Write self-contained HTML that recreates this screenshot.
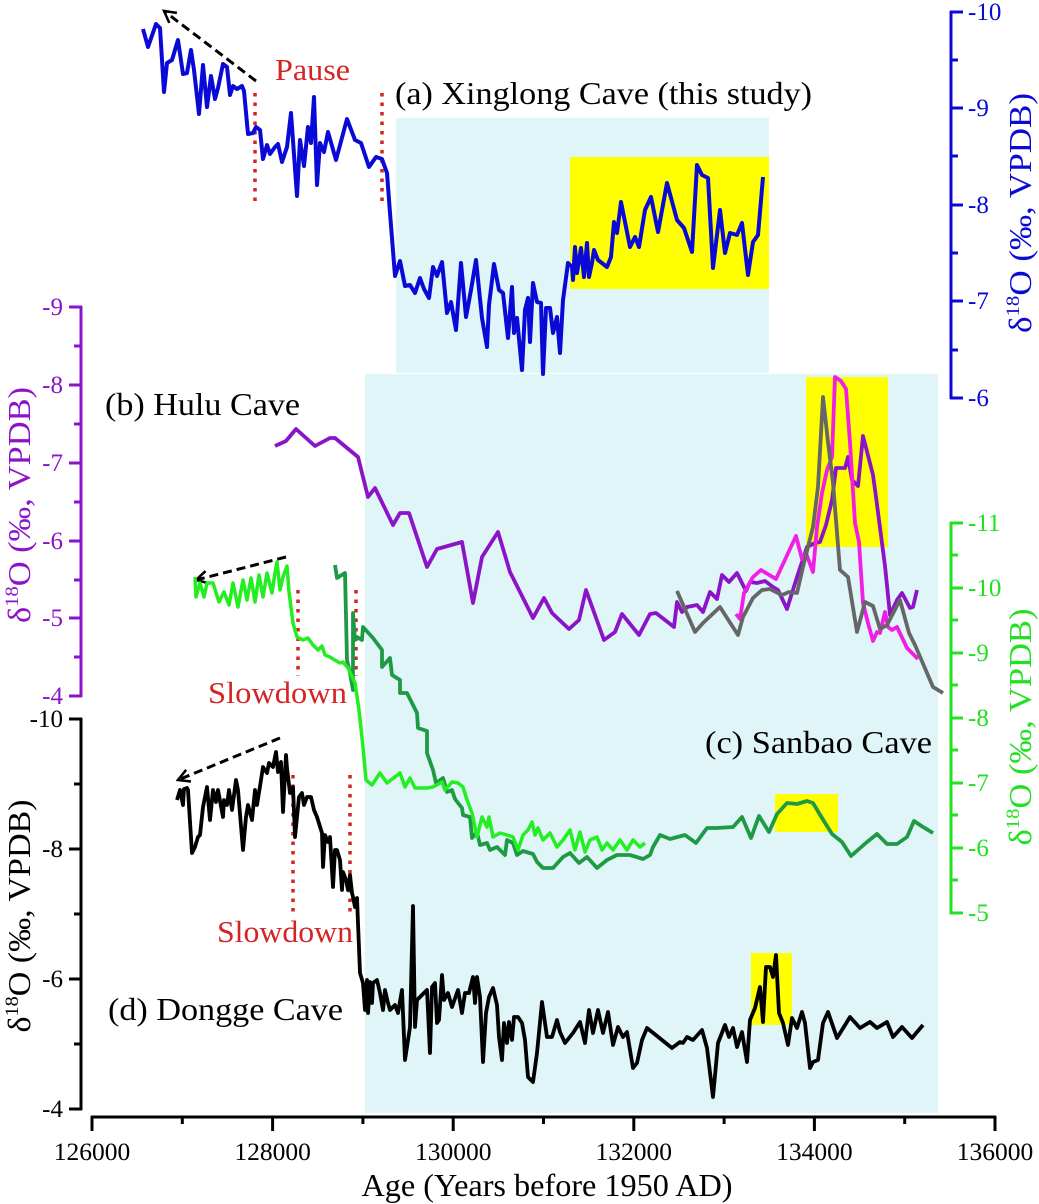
<!DOCTYPE html>
<html>
<head>
<meta charset="utf-8">
<style>
html,body{margin:0;padding:0;background:#fff;}
svg{display:block;}
text{font-family:"Liberation Serif","Times New Roman",serif;}
</style>
</head>
<body>
<svg width="1039" height="1204" viewBox="0 0 1039 1204" xmlns="http://www.w3.org/2000/svg">
<defs>
<marker id="arr" viewBox="0 0 14 14" refX="12" refY="7" markerWidth="16" markerHeight="16" markerUnits="userSpaceOnUse" orient="auto">
<path d="M2,1.5 L12,7 L2,12.5" fill="none" stroke="#000" stroke-width="2.2" stroke-dasharray="none"/>
</marker>
</defs>

<!-- background bands -->
<rect x="396" y="118" width="373" height="255" fill="#dff5f7"/>
<rect x="365" y="374" width="573" height="739" fill="#dff5f7"/>
<!-- yellow boxes -->
<rect x="570" y="157" width="199" height="132" fill="#ffff00"/>
<rect x="806" y="377" width="82" height="170" fill="#ffff00"/>
<rect x="775" y="794" width="63" height="38" fill="#ffff00"/>
<rect x="751" y="953" width="41" height="72" fill="#ffff00"/>

<!-- red dotted lines -->
<g stroke="#d42424" stroke-width="3.5" stroke-dasharray="3.5 6" fill="none">
<line x1="255" y1="93" x2="255" y2="202"/>
<line x1="382" y1="93" x2="382" y2="202"/>
<line x1="298" y1="590" x2="298" y2="676"/>
<line x1="356" y1="590" x2="356" y2="676"/>
<line x1="293" y1="775" x2="293" y2="914"/>
<line x1="350" y1="775" x2="350" y2="914"/>
</g>

<!-- dashed arrows -->
<g stroke="#000" stroke-width="3" stroke-dasharray="9 5" fill="none">
<line x1="256" y1="81" x2="164" y2="11" marker-end="url(#arr)"/>
<line x1="286" y1="557" x2="196" y2="580" marker-end="url(#arr)"/>
<line x1="280" y1="738" x2="178" y2="780" marker-end="url(#arr)"/>
</g>

<!-- (a) Xinglong blue -->
<polyline fill="none" stroke="#0a0ad6" stroke-width="4" stroke-linejoin="round" points="143,29 148,47 156,24 160,28 164,92 167,63 172,60 178,40 183,74 187,73 191,50 194,70 199,114 203,65 207,107 211,76 215,99 218,88 223,64 227,67 230,95 233,86 237,89 242,86 244,91 248,134 253,133 256,127 260,130 263,159 267,145 270,154 275,147 278,144 282,162 287,147 291,113 297,196 300,140 304,166 308,127 311,143 314,97 317,185 320,143 324,152 328,132 336,160 347,119 355,140 361,143 369,167 376,157 382,159 387,173 390,213 395,276 400,261 405,286 410,285 415,293 420,278 424,289 429,298 433,267 437,276 442,262 447,313 451,302 456,330 461,263 466,317 471,290 476,260 482,318 487,347 489,305 494,264 499,290 503,293 508,338 512,287 514,333 517,318 522,370 525,310 528,298 530,342 533,283 537,302 541,303 543,374 546,308 550,308 553,333 557,317 560,353 563,300 568,263 572,267 573,280 575,247 577,273 581,248 584,277 587,243 589,277 592,263 594,250 598,260 607,267 611,257 614,222 617,233 621,202 630,247 635,237 639,247 645,210 651,197 658,232 667,183 677,220 684,228 692,252 697,165 702,175 708,178 713,268 720,210 725,253 730,233 737,235 742,223 748,275 753,242 758,235 763,177"/>

<!-- (b) Hulu purple -->
<polyline fill="none" stroke="#8c14c8" stroke-width="3.8" stroke-linejoin="round" points="275,446 286,441 296,429 315,446 330,438 335,438 358,457 368,497 375,488 393,525 400,513 409,513 427,567 437,549 462,542 473,603 482,557 498,532 510,572 520,592 533,618 544,598 552,613 569,629 579,620 586,590 604,640 615,632 622,614 639,635 650,614 656,613 674,627 677,602 682,612 687,607 697,605 703,612 710,592 717,599 722,575 729,582 737,573 746,591 750,582 757,583 765,581 773,587 778,590 787,609 797,577 807,547 815,543 820,542 826,525 832,500 836,468 845,468 848,457 852,480 858,486 863,436 873,475 876,497 879,520 885,566 890,615 897,600 902,593 910,608 913,607 917,590"/>

<!-- magenta -->
<polyline fill="none" stroke="#f01ee6" stroke-width="3.8" stroke-linejoin="round" points="736,614 740,619 744,593 753,577 761,570 776,579 796,536 802,559 806,553 813,572 817,527 822,493 827,470 832,457 835,377 841,381 846,389 850,443 855,523 859,542 863,603 868,623 873,641 877,632 880,633 885,612 888,627 892,630 897,627 907,648 918,659"/>

<!-- gray -->
<polyline fill="none" stroke="#666666" stroke-width="3.8" stroke-linejoin="round" points="677,591 695,632 703,623 720,607 738,635 743,617 753,598 762,590 770,589 782,595 789,592 797,593 803,567 813,527 818,487 823,397 828,442 833,483 840,570 848,577 857,632 865,602 873,606 880,629 887,625 900,600 909,633 915,645 933,687 943,693"/>

<!-- (c) Sanbao dark green -->
<polyline fill="none" stroke="#1e9a44" stroke-width="3.8" stroke-linejoin="round" points="335,565 337,578 345,573 347,660 350,673 353,690 353,613 355,640 357,637 362,640 363,627 373,638 382,650 382,667 390,658 392,675 400,680 400,693 407,693 417,713 418,728 427,731 427,753 433,770 436,783 443,778 447,792 452,790 455,799 462,808 463,815 470,817 472,838 477,832 480,845 487,843 490,850 497,847 505,855 507,840 513,843 517,855 523,851 533,854 537,862 543,868 553,868 563,857 570,853 579,863 587,857 597,868 607,860 617,855 630,855 643,859 650,855 653,847 660,835 670,839 685,835 696,843 707,828 717,828 733,827 742,817 751,838 759,816 769,832 777,814 787,803 797,804 807,801 813,803 822,818 832,834 842,842 851,856 867,842 877,834 887,844 897,844 907,837 914,821 923,827 933,833"/>

<!-- (c) Sanbao light green -->
<polyline fill="none" stroke="#22ee22" stroke-width="3.5" stroke-linejoin="round" points="195,577 196,597 200,583 204,597 207,583 213,583 219,602 224,592 229,605 233,583 238,607 243,580 247,600 251,578 255,602 259,575 263,597 267,573 272,593 275,573 277,562 280,590 283,577 287,566 289,592 293,623 297,637 303,640 308,638 313,645 318,650 322,646 325,655 330,657 333,659 340,663 343,662 348,668 355,683 359,710 363,747 366,780 372,785 380,773 387,783 400,773 405,787 410,778 415,788 427,788 433,787 442,782 445,790 452,782 458,783 463,787 467,800 472,813 477,837 482,817 487,827 489,817 493,837 500,833 507,835 513,837 518,850 523,835 528,830 532,822 535,835 538,828 543,840 550,833 557,847 563,840 570,830 575,850 580,832 585,852 590,840 597,837 602,850 607,843 613,850 620,840 627,850 633,840 640,847 645,843"/>

<!-- (d) Dongge black -->
<polyline fill="none" stroke="#000" stroke-width="3.8" stroke-linejoin="round" points="177,800 180,790 183,805 184,789 187,788 188,790 192,853 195,847 198,837 200,835 203,807 207,787 210,820 213,790 216,802 218,790 223,817 224,800 227,805 229,790 232,810 236,780 238,790 243,850 246,817 248,805 252,820 255,790 257,805 261,780 263,767 267,773 269,763 273,767 276,752 278,772 281,762 283,812 286,755 287,768 290,793 293,787 295,837 297,817 299,797 302,793 304,805 307,797 311,797 314,810 317,817 322,833 323,867 325,835 328,842 330,837 333,887 335,850 337,850 340,860 342,890 343,872 346,880 348,890 350,875 352,893 353,897 355,907 357,898 360,973 363,983 365,1010 367,980 368,1013 370,982 372,1003 373,983 377,980 380,993 383,1010 385,990 388,1003 390,1010 395,1005 398,1013 402,990 405,1060 410,1027 413,906 415,1027 417,1000 427,990 430,1053 432,987 435,983 437,1023 439,1020 442,975 444,1000 448,993 452,1007 458,990 462,1013 465,993 469,993 473,977 475,1003 477,977 480,997 483,1062 486,1013 489,997 493,988 497,1005 499,1037 502,1060 504,1023 507,1043 509,1022 512,1040 514,1017 518,1017 522,1023 525,1040 528,1077 533,1082 537,1053 542,1002 547,1037 552,1037 557,1020 560,1032 565,1043 573,1033 580,1022 585,1043 589,1010 593,1033 598,1010 603,1033 608,1012 613,1045 618,1027 623,1037 627,1032 633,1068 637,1063 642,1040 647,1028 672,1048 680,1042 683,1043 687,1037 693,1040 702,1030 707,1048 713,1097 718,1043 725,1025 729,1037 733,1028 737,1047 742,1032 747,1062 750,1020 755,1008 760,987 763,1022 766,967 770,967 773,977 776,955 779,1013 783,1023 788,1045 792,1018 797,1028 802,1012 805,1023 810,1068 813,1062 818,1060 823,1023 828,1012 837,1038 850,1017 860,1028 870,1022 877,1028 887,1022 893,1037 902,1027 912,1038 923,1025"/>

<!-- Blue right axis -->
<g stroke="#0a0ad6" stroke-width="3" fill="none">
<line x1="951" y1="11" x2="951" y2="399"/>
<line x1="950" y1="12" x2="963" y2="12"/>
<line x1="950" y1="108" x2="963" y2="108"/>
<line x1="950" y1="205" x2="963" y2="205"/>
<line x1="950" y1="301" x2="963" y2="301"/>
<line x1="950" y1="398" x2="963" y2="398"/>
<line x1="950" y1="60" x2="958" y2="60"/>
<line x1="950" y1="156" x2="958" y2="156"/>
<line x1="950" y1="253" x2="958" y2="253"/>
<line x1="950" y1="350" x2="958" y2="350"/>
</g>
<g fill="#0a0ad6" font-size="25">
<text x="968" y="20">-10</text>
<text x="968" y="116">-9</text>
<text x="968" y="213">-8</text>
<text x="968" y="309">-7</text>
<text x="968" y="406">-6</text>
</g>
<text transform="translate(1031,213) rotate(-90)" text-anchor="middle" fill="#0a0ad6" font-size="32" textLength="240" lengthAdjust="spacingAndGlyphs">δ<tspan font-size="19" dy="-12">18</tspan><tspan dy="12">O (‰, VPDB)</tspan></text>

<!-- Purple left axis -->
<g stroke="#8c14c8" stroke-width="3" fill="none">
<line x1="81" y1="306" x2="81" y2="697"/>
<line x1="69" y1="307" x2="82" y2="307"/>
<line x1="69" y1="385" x2="82" y2="385"/>
<line x1="69" y1="463" x2="82" y2="463"/>
<line x1="69" y1="541" x2="82" y2="541"/>
<line x1="69" y1="618" x2="82" y2="618"/>
<line x1="69" y1="696" x2="82" y2="696"/>
<line x1="74" y1="346" x2="82" y2="346"/>
<line x1="74" y1="424" x2="82" y2="424"/>
<line x1="74" y1="502" x2="82" y2="502"/>
<line x1="74" y1="580" x2="82" y2="580"/>
<line x1="74" y1="657" x2="82" y2="657"/>
</g>
<g fill="#8c14c8" font-size="25" text-anchor="end">
<text x="63" y="315">-9</text>
<text x="63" y="393">-8</text>
<text x="63" y="471">-7</text>
<text x="63" y="549">-6</text>
<text x="63" y="626">-5</text>
<text x="63" y="704">-4</text>
</g>
<text transform="translate(30,505) rotate(-90)" text-anchor="middle" fill="#8c14c8" font-size="32" textLength="236" lengthAdjust="spacingAndGlyphs">δ<tspan font-size="19" dy="-12">18</tspan><tspan dy="12">O (‰, VPDB)</tspan></text>

<!-- Green right axis -->
<g stroke="#22e022" stroke-width="3" fill="none">
<line x1="951" y1="522" x2="951" y2="914"/>
<line x1="950" y1="523" x2="963" y2="523"/>
<line x1="950" y1="588" x2="963" y2="588"/>
<line x1="950" y1="653" x2="963" y2="653"/>
<line x1="950" y1="718" x2="963" y2="718"/>
<line x1="950" y1="783" x2="963" y2="783"/>
<line x1="950" y1="848" x2="963" y2="848"/>
<line x1="950" y1="913" x2="963" y2="913"/>
<line x1="950" y1="555" x2="958" y2="555"/>
<line x1="950" y1="620" x2="958" y2="620"/>
<line x1="950" y1="685" x2="958" y2="685"/>
<line x1="950" y1="750" x2="958" y2="750"/>
<line x1="950" y1="815" x2="958" y2="815"/>
<line x1="950" y1="880" x2="958" y2="880"/>
</g>
<g fill="#22e022" font-size="25">
<text x="968" y="531">-11</text>
<text x="968" y="596">-10</text>
<text x="968" y="661">-9</text>
<text x="968" y="726">-8</text>
<text x="968" y="791">-7</text>
<text x="968" y="856">-6</text>
<text x="968" y="921">-5</text>
</g>
<text transform="translate(1031,727) rotate(-90)" text-anchor="middle" fill="#22e022" font-size="32" textLength="237" lengthAdjust="spacingAndGlyphs">δ<tspan font-size="19" dy="-12">18</tspan><tspan dy="12">O (‰, VPDB)</tspan></text>

<!-- Black left axis -->
<g stroke="#000" stroke-width="3" fill="none">
<line x1="81" y1="718" x2="81" y2="1110"/>
<line x1="69" y1="719" x2="82" y2="719"/>
<line x1="69" y1="849" x2="82" y2="849"/>
<line x1="69" y1="979" x2="82" y2="979"/>
<line x1="69" y1="1109" x2="82" y2="1109"/>
<line x1="74" y1="784" x2="82" y2="784"/>
<line x1="74" y1="914" x2="82" y2="914"/>
<line x1="74" y1="1044" x2="82" y2="1044"/>
</g>
<g fill="#000" font-size="25" text-anchor="end">
<text x="63" y="727">-10</text>
<text x="63" y="857">-8</text>
<text x="63" y="987">-6</text>
<text x="63" y="1117">-4</text>
</g>
<text transform="translate(30,916) rotate(-90)" text-anchor="middle" fill="#000" font-size="32" textLength="233" lengthAdjust="spacingAndGlyphs">δ<tspan font-size="19" dy="-12">18</tspan><tspan dy="12">O (‰, VPDB)</tspan></text>

<!-- X axis -->
<g stroke="#000" stroke-width="3" fill="none">
<line x1="91" y1="1117" x2="996" y2="1117"/>
<line x1="92" y1="1116" x2="92" y2="1131"/>
<line x1="272.6" y1="1116" x2="272.6" y2="1131"/>
<line x1="453.2" y1="1116" x2="453.2" y2="1131"/>
<line x1="633.8" y1="1116" x2="633.8" y2="1131"/>
<line x1="814.4" y1="1116" x2="814.4" y2="1131"/>
<line x1="995" y1="1116" x2="995" y2="1131"/>
<line x1="182.3" y1="1116" x2="182.3" y2="1124"/>
<line x1="362.9" y1="1116" x2="362.9" y2="1124"/>
<line x1="543.5" y1="1116" x2="543.5" y2="1124"/>
<line x1="724.1" y1="1116" x2="724.1" y2="1124"/>
<line x1="904.7" y1="1116" x2="904.7" y2="1124"/>
</g>
<g fill="#000" font-size="25.5" text-anchor="middle">
<text x="92" y="1160">126000</text>
<text x="272.6" y="1160">128000</text>
<text x="453.2" y="1160">130000</text>
<text x="633.8" y="1160">132000</text>
<text x="814.4" y="1160">134000</text>
<text x="995" y="1160">136000</text>
</g>
<text x="547" y="1196" text-anchor="middle" font-size="32" fill="#000" textLength="371" lengthAdjust="spacingAndGlyphs">Age (Years before 1950 AD)</text>

<!-- Panel labels -->
<g fill="#000" font-size="32">
<text x="395" y="104" textLength="417" lengthAdjust="spacingAndGlyphs">(a) Xinglong Cave (this study)</text>
<text x="105" y="415" textLength="195" lengthAdjust="spacingAndGlyphs">(b) Hulu Cave</text>
<text x="705" y="753" textLength="227" lengthAdjust="spacingAndGlyphs">(c) Sanbao Cave</text>
<text x="108" y="1020" textLength="235" lengthAdjust="spacingAndGlyphs">(d) Dongge Cave</text>
</g>
<g fill="#d42424" font-size="31">
<text x="275" y="80" textLength="75" lengthAdjust="spacingAndGlyphs">Pause</text>
<text x="208" y="703" textLength="139" lengthAdjust="spacingAndGlyphs">Slowdown</text>
<text x="217" y="942" textLength="136" lengthAdjust="spacingAndGlyphs">Slowdown</text>
</g>
</svg>
</body>
</html>
